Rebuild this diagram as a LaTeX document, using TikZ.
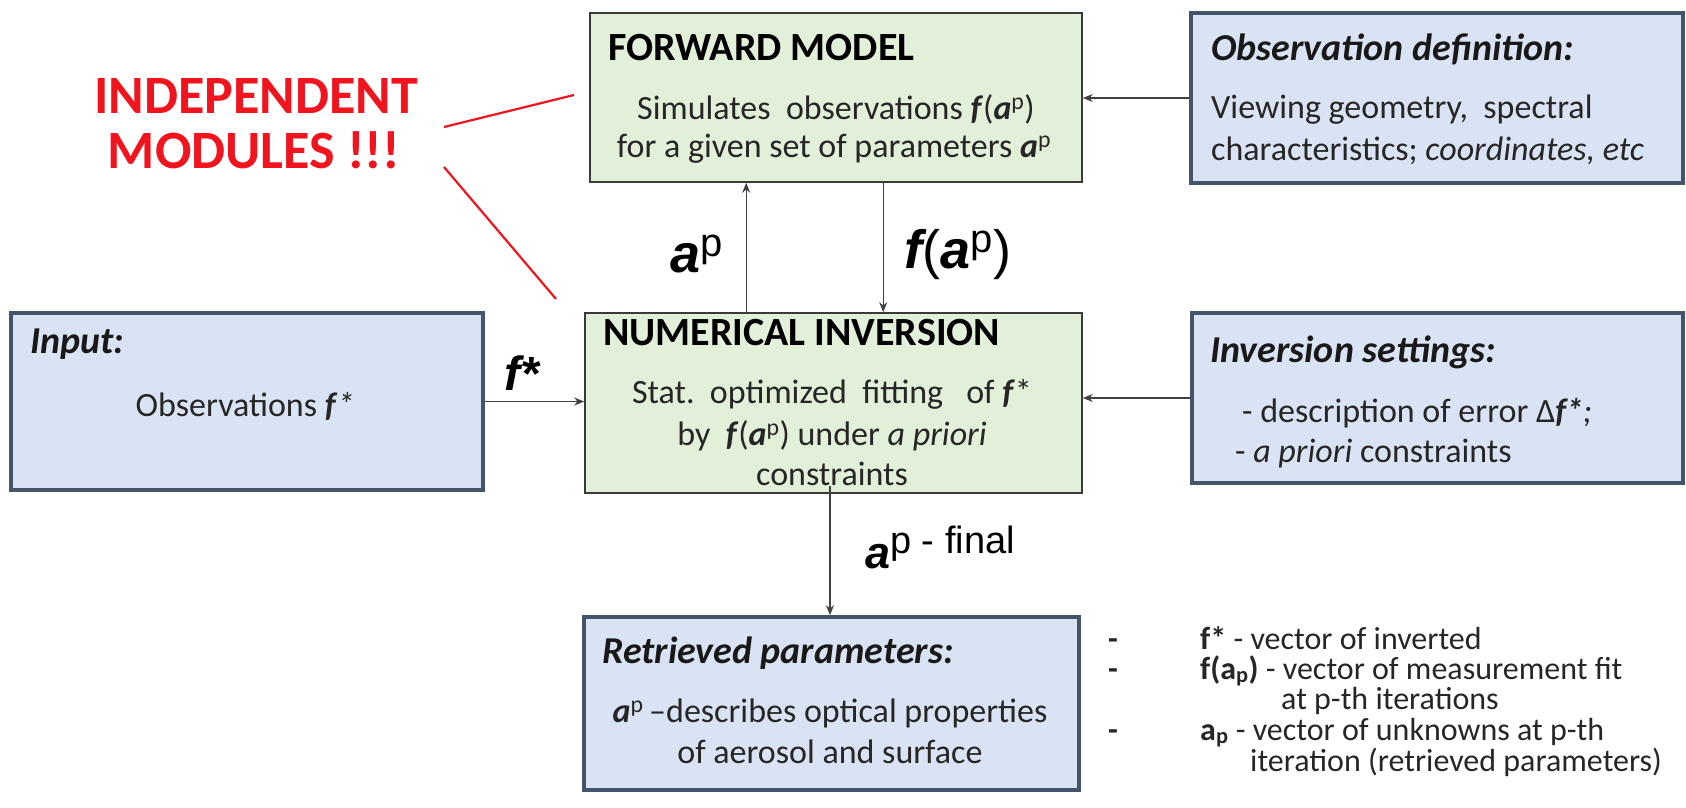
\documentclass[tikz,border=0pt]{standalone}
\usepackage{fontspec}
\setmainfont{Carlito}
\newfontfamily\arialf{Liberation Sans}
\usetikzlibrary{arrows.meta}
\definecolor{gfill}{HTML}{E2EFD9}
\definecolor{gdraw}{HTML}{3A3A3A}
\definecolor{bfill}{HTML}{DAE3F3}
\definecolor{bdraw}{HTML}{44546A}
\definecolor{redc}{HTML}{F0141E}
\definecolor{txt}{HTML}{262626}
\definecolor{arr}{HTML}{404040}
\newcommand{\bfa}{\textbf{\textit{a}}}
\newcommand{\bff}{\textbf{\textit{f}}}
\begin{document}
\begin{tikzpicture}[x=1pt,y=-1pt,
 gbox/.style={draw=gdraw, fill=gfill, line width=1.6pt, inner sep=0pt},
 bbox/.style={draw=bdraw, fill=bfill, line width=3.5pt, inner sep=0pt},
 hd/.style={anchor=base west, inner sep=0pt, font=\fontsize{40}{48}\selectfont\bfseries, text=black},
 bhd/.style={anchor=base west, inner sep=0pt, font=\fontsize{38}{46}\selectfont\bfseries\itshape, text=black!90},
 bd/.style={anchor=base, inner sep=0pt, font=\fontsize{34}{40}\selectfont, text=txt},
 bdl/.style={bd, anchor=base west},
 lbl/.style={anchor=base, inner sep=0pt, font=\arialf, text=black},
 conn/.style={draw=arr, line width=1.3pt, -{Stealth[length=10pt,width=8pt]}},
 redl/.style={draw=redc, line width=2.2pt},
 redt/.style={anchor=base, inner sep=0pt, text=redc, font=\fontsize{54}{60}\selectfont\bfseries},
 leg/.style={anchor=base west, inner sep=0pt, font=\fontsize{32}{36}\selectfont, text=txt}
]
\useasboundingbox (0,0) rectangle (1686,808);

% boxes
\node[gbox, minimum width=492pt, minimum height=169pt] (fm) at (836,97.5) {};
\node[bbox, minimum width=492pt, minimum height=170pt] (obs) at (1437,98) {};
\node[bbox, minimum width=472pt, minimum height=177pt] (inp) at (247,401.5) {};
\node[gbox, minimum width=497pt, minimum height=180pt] (ni) at (833.5,403) {};
\node[bbox, minimum width=491pt, minimum height=170pt] (inv) at (1437.5,398) {};
\node[bbox, minimum width=495pt, minimum height=173pt] (ret) at (831.5,703.5) {};

% forward model texts
\node[hd] (fmh) at (608,60) {FORWARD MODEL};
\node[bd] (fm1) at (836,119) {Simulates\ \ observations \bff(\bfa\textsuperscript{p})};
\node[bd] (fm2) at (834,157) {for a given set of parameters \bfa\textsuperscript{p}};

% observation definition
\node[bhd] (obsh) at (1211,61) {Observation definition:};
\node[bdl] (obs1) at (1211,118) {Viewing geometry,\ \ spectral};
\node[bdl] (obs2) at (1211,160) {characteristics; \textit{coordinates, etc}};

% input
\node[bhd] (inph) at (30,353) {Input:};
\node[bd] (inp1) at (245,416) {Observations \bff\textit{*}};

% numerical inversion
\node[hd] (nih) at (603,345) {NUMERICAL INVERSION};
\node[bd] (ni1) at (832,403) {Stat.\ \ optimized\ \ fitting\ \ \ of \bff*};
\node[bd] (ni2) at (832,445) {by\ \ \bff(\bfa\textsuperscript{p}) under \textit{a priori}};
\node[bd] (ni3) at (832,485) {constraints};

% inversion settings
\node[bhd] (invh) at (1210,362) {Inversion settings:};
\node[bdl] (inv1) at (1242,422) {- description of error Δ\textbf{\textit{f*}}\textit{;}};
\node[bdl] (inv2) at (1235,462) {- \textit{a priori} constraints};

% retrieved
\node[bhd] (reth) at (602,663) {Retrieved parameters:};
\node[bd] (ret1) at (830,722) {\bfa\textsuperscript{p}\,–describes optical properties};
\node[bd] (ret2) at (830,763) {of aerosol and surface};

% connectors
\draw[conn] ([xshift=162pt]ni.north west) -- ([xshift=157pt]fm.south west);
\draw[conn] ([xshift=294pt]fm.south west) -- ([xshift=299pt]ni.north west);
\draw[conn] (obs.west) -- (obs.west -| fm.east);
\draw[conn] (inp.east) -- (inp.east -| ni.west);
\draw[conn] (inv.west) -- (inv.west -| ni.east);
\draw[conn] ([xshift=-3.5pt,yshift=8pt]ni.south) -- ([xshift=-3.5pt]ni.south |- ret.north);

% arrow labels
\node[lbl] (lap) at (697,272) {{\fontsize{54}{54}\selectfont\bfseries\itshape a}\raisebox{16pt}{\fontsize{40}{40}\selectfont p}};
\node[lbl] (lfap) at (958,268) {\fontsize{54}{54}\selectfont{\bfseries\itshape f}({\bfseries\itshape a}\raisebox{16pt}{\fontsize{40}{40}\selectfont p})};
\node[lbl] (lfs) at (522,390) {\fontsize{48}{48}\selectfont\bfseries\itshape f*};
\node[lbl, anchor=base west] (lfin) at (865,568) {{\fontsize{45}{45}\selectfont\bfseries\itshape a}\raisebox{15pt}{\fontsize{38}{38}\selectfont p - final}};

% red annotation
\node[redt] (red1) at (256,113) {INDEPENDENT};
\node[redt] (red2) at (254,168) {MODULES !!!};
\coordinate (r1a) at (444,127);
\coordinate (r1b) at (574,95);
\coordinate (r2a) at (444,167);
\coordinate (r2b) at (556,299);
\draw[redl] (r1a) -- (r1b);
\draw[redl] (r2a) -- (r2b);

% legend
\node[leg] (d1) at (1108,649) {\textbf{-}};
\node[leg] (l1) at (1200,649) {\textbf{f*} - vector of inverted};
\node[leg] (d2) at (1108,679) {\textbf{-}};
\node[leg] (l2) at (1200,679) {\textbf{f(a\textsubscript{p})} - vector of measurement fit};
\node[leg] (l3) at (1281,709) {at p-th iterations};
\node[leg] (d4) at (1108,740) {\textbf{-}};
\node[leg] (l4) at (1200,740) {\textbf{a\textsubscript{p}} - vector of unknowns at p-th};
\node[leg] (l5) at (1250,771) {iteration (retrieved parameters)};
\end{tikzpicture}
\end{document}
